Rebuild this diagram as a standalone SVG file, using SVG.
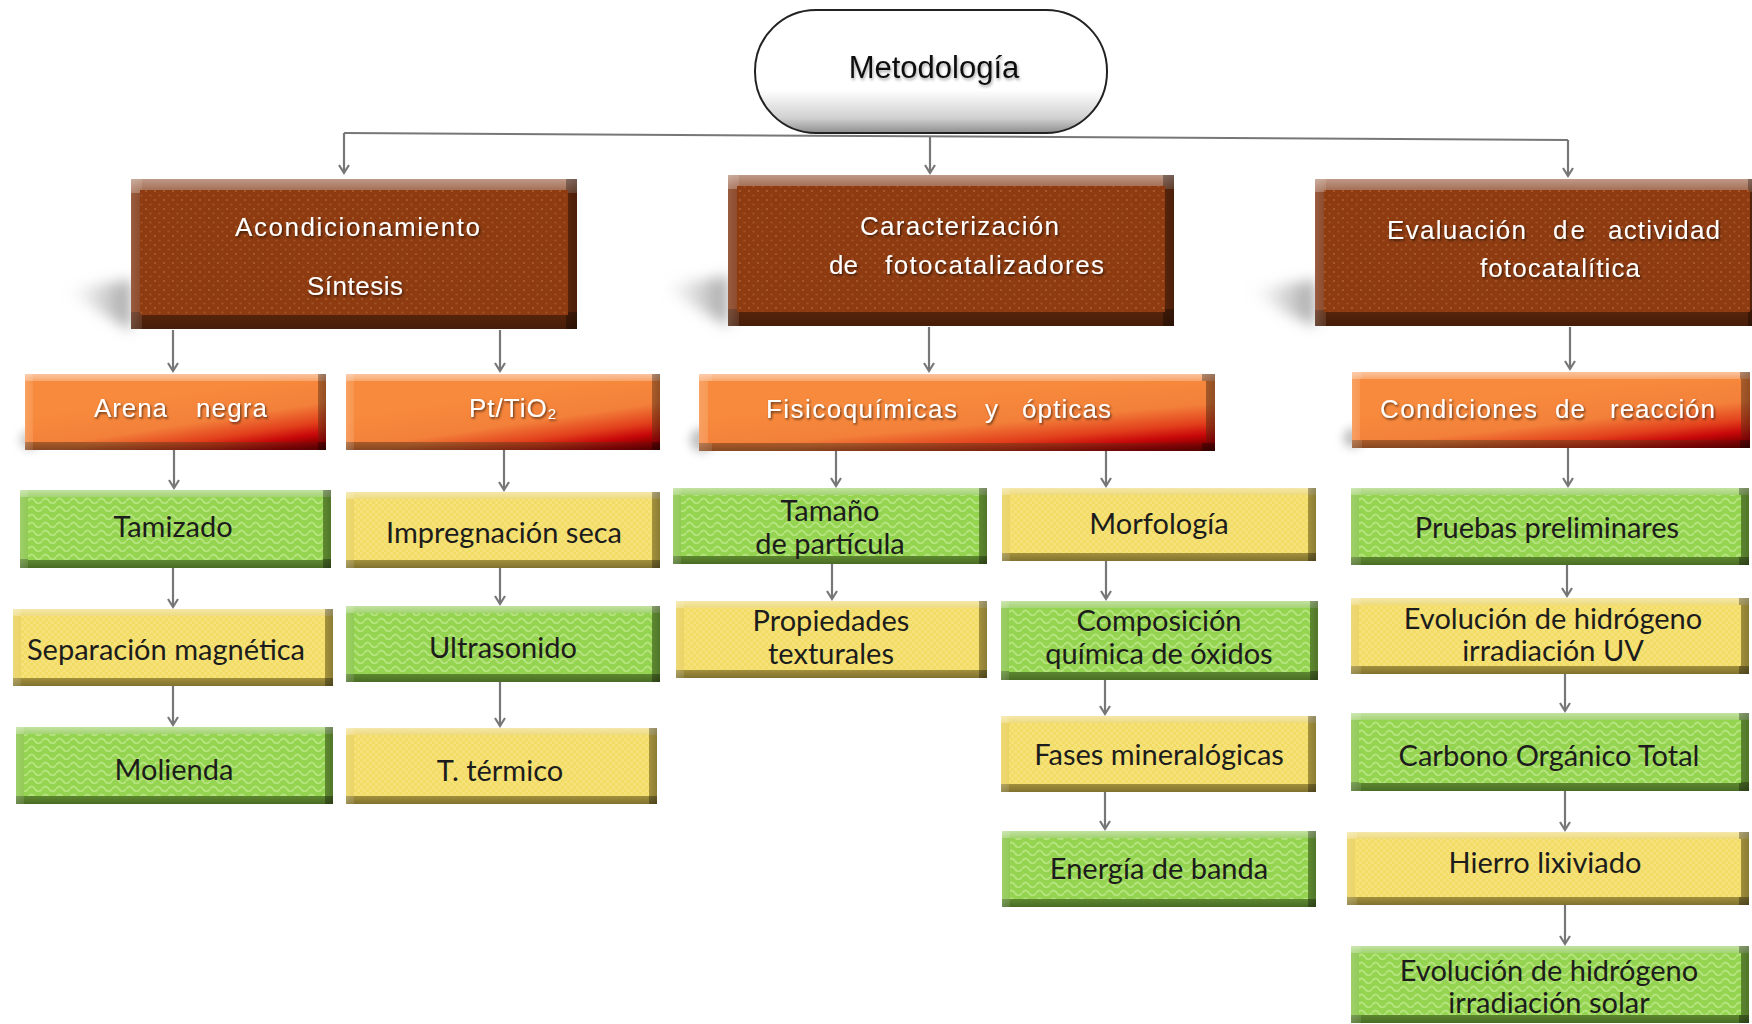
<svg xmlns="http://www.w3.org/2000/svg" width="1752" height="1024" viewBox="0 0 1752 1024">
<defs>
<style>
.conn{stroke:#777;stroke-width:2.2;fill:none;marker-end:url(#arr)}
.dk{font-family:Lato,"Open Sans",sans-serif;font-size:29px;fill:#1c1c1c;text-anchor:middle}
.wt{font-family:"Liberation Sans",Arial,sans-serif;font-size:26px;fill:#fff;filter:url(#tsh)}
.bv{fill:url(#bevV)}
.bh{fill:url(#bevH)}
.gB{fill:#7f3410}
.gO{fill:url(#gOr)}
.gG{fill:#86c444}
.gY{fill:#e9cf55}
.fB{fill:url(#pBrown)}
.fG{fill:url(#pGreen)}
.fY{fill:url(#pYellow)}
.shw{fill:url(#gSh);filter:url(#blur8)}
</style>
<marker id="arr" markerWidth="12" markerHeight="12" refX="9" refY="6" orient="auto" markerUnits="userSpaceOnUse">
<path d="M1,1 L9,6 L1,11" fill="none" stroke="#777" stroke-width="2.2"/>
</marker>
<filter id="tsh" x="-10%" y="-30%" width="120%" height="160%">
<feDropShadow dx="1.2" dy="1.6" stdDeviation="1" flood-color="#000" flood-opacity="0.6"/>
</filter>
<filter id="tsh2" x="-10%" y="-30%" width="120%" height="160%">
<feDropShadow dx="1" dy="2" stdDeviation="1.5" flood-color="#000" flood-opacity="0.35"/>
</filter>
<filter id="blur6" x="-50%" y="-50%" width="200%" height="200%"><feGaussianBlur stdDeviation="5"/></filter>
<filter id="blur8" x="-50%" y="-80%" width="200%" height="260%"><feGaussianBlur stdDeviation="7"/></filter>
<linearGradient id="bevV" x1="0" y1="0" x2="0" y2="1">
<stop offset="0" stop-color="#fff" stop-opacity="0.5"/>
<stop offset="0.09" stop-color="#fff" stop-opacity="0.25"/>
<stop offset="0.09" stop-color="#fff" stop-opacity="0"/>
<stop offset="0.89" stop-color="#000" stop-opacity="0"/>
<stop offset="0.89" stop-color="#000" stop-opacity="0.3"/>
<stop offset="1" stop-color="#000" stop-opacity="0.45"/>
</linearGradient>
<linearGradient id="bevH" x1="0" y1="0" x2="1" y2="0">
<stop offset="0" stop-color="#fff" stop-opacity="0.2"/>
<stop offset="0.025" stop-color="#fff" stop-opacity="0.1"/>
<stop offset="0.025" stop-color="#fff" stop-opacity="0"/>
<stop offset="0.975" stop-color="#000" stop-opacity="0"/>
<stop offset="0.975" stop-color="#000" stop-opacity="0.3"/>
<stop offset="1" stop-color="#000" stop-opacity="0.4"/>
</linearGradient>
<linearGradient id="gOr" x1="0.45" y1="0.25" x2="1" y2="1">
<stop offset="0" stop-color="#f78a3c"/>
<stop offset="0.45" stop-color="#f3803a"/>
<stop offset="0.72" stop-color="#e2401c"/>
<stop offset="0.88" stop-color="#c8080a"/>
<stop offset="1" stop-color="#900000"/>
</linearGradient>
<linearGradient id="gPill" x1="0" y1="0" x2="0" y2="1">
<stop offset="0" stop-color="#ffffff"/>
<stop offset="0.65" stop-color="#ffffff"/>
<stop offset="0.88" stop-color="#d0d0d0"/>
<stop offset="1" stop-color="#8e8e8e"/>
</linearGradient>
<linearGradient id="gSh" x1="1" y1="0" x2="0" y2="0">
<stop offset="0" stop-color="#8a8a8a" stop-opacity="0.8"/>
<stop offset="1" stop-color="#bbb" stop-opacity="0"/>
</linearGradient>
<pattern id="pBrown" width="9" height="9" patternUnits="userSpaceOnUse">
<rect width="9" height="9" fill="#8e3b11"/>
<circle cx="2" cy="2" r="1.1" fill="#ab5f2c"/>
<circle cx="6.5" cy="6.5" r="1.1" fill="#a1542a"/>
</pattern>
<pattern id="pGreen" width="14" height="8" patternUnits="userSpaceOnUse">
<rect width="14" height="8" fill="#94d450"/>
<path d="M0,5 Q3.5,0 7,5 T14,5" stroke="#b5e47e" stroke-width="2" fill="none"/>
</pattern>
<pattern id="pYellow" width="6" height="6" patternUnits="userSpaceOnUse">
<rect width="6" height="6" fill="#f3dc66"/>
<rect width="3" height="3" fill="#f5e27a"/>
<rect x="3" y="3" width="3" height="3" fill="#f5e27a"/>
</pattern>
</defs>
<rect width="1752" height="1024" fill="#fff"/>

<g id="shadows">
<polygon class="shw" points="131,280 66,290 100,312 131,330"/>
<polygon class="shw" points="728,276 663,286 697,308 728,326"/>
<polygon class="shw" points="1315,280 1250,290 1284,312 1315,326"/>
<ellipse cx="30" cy="440" rx="10" ry="10" fill="#999" opacity="0.5" filter="url(#blur6)"/>
<ellipse cx="702" cy="440" rx="12" ry="12" fill="#999" opacity="0.6" filter="url(#blur6)"/>
<ellipse cx="1353" cy="438" rx="10" ry="10" fill="#999" opacity="0.6" filter="url(#blur6)"/>
</g>

<g id="connectors">
<line x1="344" y1="133" x2="1568" y2="140" stroke="#777" stroke-width="2"/>
<line class="conn" x1="344" y1="133" x2="344" y2="173"/>
<line class="conn" x1="930" y1="136" x2="930" y2="173"/>
<line class="conn" x1="1568" y1="140" x2="1568" y2="176"/>
<line class="conn" x1="173" y1="330" x2="173" y2="371"/>
<line class="conn" x1="500" y1="330" x2="500" y2="371"/>
<line class="conn" x1="929" y1="327" x2="929" y2="371"/>
<line class="conn" x1="1570" y1="327" x2="1570" y2="369"/>
<line class="conn" x1="174" y1="450" x2="174" y2="488"/>
<line class="conn" x1="173" y1="568" x2="173" y2="607"/>
<line class="conn" x1="173" y1="686" x2="173" y2="725"/>
<line class="conn" x1="504" y1="450" x2="504" y2="490"/>
<line class="conn" x1="500" y1="568" x2="500" y2="604"/>
<line class="conn" x1="500" y1="682" x2="500" y2="726"/>
<line class="conn" x1="836" y1="451" x2="836" y2="486"/>
<line class="conn" x1="1106" y1="451" x2="1106" y2="486"/>
<line class="conn" x1="832" y1="564" x2="832" y2="599"/>
<line class="conn" x1="1106" y1="561" x2="1106" y2="599"/>
<line class="conn" x1="1105" y1="680" x2="1105" y2="714"/>
<line class="conn" x1="1105" y1="792" x2="1105" y2="829"/>
<line class="conn" x1="1568" y1="448" x2="1568" y2="486"/>
<line class="conn" x1="1567" y1="565" x2="1567" y2="596"/>
<line class="conn" x1="1565" y1="674" x2="1565" y2="711"/>
<line class="conn" x1="1565" y1="791" x2="1565" y2="830"/>
<line class="conn" x1="1565" y1="905" x2="1565" y2="944"/>
</g>

<g id="metodologia">
<rect x="755" y="10" width="352" height="123" rx="61" fill="url(#gPill)" stroke="#222" stroke-width="2"/>
<text x="934" y="78" font-family="Liberation Sans, Arial, sans-serif" font-size="31" fill="#111" text-anchor="middle" filter="url(#tsh2)">Metodología</text>
</g>

<g id="acondicionamiento">
<rect class="gB" x="131" y="179" width="446" height="150"/><rect class="bv" x="131" y="179" width="446" height="150"/><rect class="bh" x="131" y="179" width="446" height="150"/>
<rect class="fB" x="140" y="190" width="428" height="125"/>
<text class="wt" x="235" y="236" textLength="245" lengthAdjust="spacing">Acondicionamiento</text>
<text class="wt" x="307" y="295" textLength="96" lengthAdjust="spacing">Síntesis</text>
</g>
<g id="caracterizacion">
<rect class="gB" x="728" y="175" width="446" height="151"/><rect class="bv" x="728" y="175" width="446" height="151"/><rect class="bh" x="728" y="175" width="446" height="151"/>
<rect class="fB" x="737" y="186" width="428" height="126"/>
<text class="wt" x="860" y="235" textLength="199" lengthAdjust="spacing">Caracterización</text>
<text class="wt" x="829" y="274">de</text>
<text class="wt" x="885" y="274" textLength="219" lengthAdjust="spacing">fotocatalizadores</text>
</g>
<g id="evaluacion">
<rect class="gB" x="1315" y="179" width="444" height="147"/><rect class="bv" x="1315" y="179" width="444" height="147"/><rect class="bh" x="1315" y="179" width="444" height="147"/>
<rect class="fB" x="1324" y="190" width="426" height="122"/>
<text class="wt" x="1387" y="239" textLength="139" lengthAdjust="spacing">Evaluación</text>
<text class="wt" x="1553" y="239" textLength="32" lengthAdjust="spacing">de</text>
<text class="wt" x="1608" y="239" textLength="112" lengthAdjust="spacing">actividad</text>
<text class="wt" x="1480" y="277" textLength="160" lengthAdjust="spacing">fotocatalítica</text>
</g>

<g id="arena-negra">
<rect class="gO" x="25" y="374" width="301" height="76"/><rect class="bv" x="25" y="374" width="301" height="76"/><rect class="bh" x="25" y="374" width="301" height="76"/>
<rect class="gO" x="33" y="381" width="285" height="61"/>
<text class="wt" x="94" y="417" textLength="73" lengthAdjust="spacing">Arena</text>
<text class="wt" x="196" y="417" textLength="71" lengthAdjust="spacing">negra</text>
</g>
<g id="pt-tio2">
<rect class="gO" x="346" y="374" width="314" height="76"/><rect class="bv" x="346" y="374" width="314" height="76"/><rect class="bh" x="346" y="374" width="314" height="76"/>
<rect class="gO" x="354" y="381" width="298" height="61"/>
<text class="wt" x="469" y="417" letter-spacing="1">Pt/TiO<tspan font-size="15" dy="2">2</tspan></text>
</g>
<g id="fisicoquimicas">
<rect class="gO" x="699" y="374" width="516" height="77"/><rect class="bv" x="699" y="374" width="516" height="77"/><rect class="bh" x="699" y="374" width="516" height="77"/>
<rect class="gO" x="708" y="381" width="498" height="62"/>
<text class="wt" x="766" y="418" textLength="191" lengthAdjust="spacing">Fisicoquímicas</text>
<text class="wt" x="985" y="418">y</text>
<text class="wt" x="1022" y="418" textLength="89" lengthAdjust="spacing">ópticas</text>
</g>
<g id="condiciones">
<rect class="gO" x="1352" y="372" width="398" height="76"/><rect class="bv" x="1352" y="372" width="398" height="76"/><rect class="bh" x="1352" y="372" width="398" height="76"/>
<rect class="gO" x="1360" y="379" width="381" height="61"/>
<text class="wt" x="1380" y="418" textLength="157" lengthAdjust="spacing">Condiciones</text>
<text class="wt" x="1555" y="418" textLength="30" lengthAdjust="spacing">de</text>
<text class="wt" x="1610" y="418" textLength="105" lengthAdjust="spacing">reacción</text>
</g>

<g id="tamizado">
<rect class="gG" x="20" y="490" width="311" height="78"/><rect class="bv" x="20" y="490" width="311" height="78"/><rect class="bh" x="20" y="490" width="311" height="78"/>
<rect class="fG" x="28" y="497" width="295" height="63"/>
<text class="dk" x="173" y="537">Tamizado</text>
</g>
<g id="separacion">
<rect class="gY" x="13" y="609" width="320" height="77"/><rect class="bv" x="13" y="609" width="320" height="77"/><rect class="bh" x="13" y="609" width="320" height="77"/>
<rect class="fY" x="21" y="616" width="304" height="62"/>
<text class="dk" x="166" y="660">Separación magnética</text>
</g>
<g id="molienda">
<rect class="gG" x="16" y="727" width="317" height="77"/><rect class="bv" x="16" y="727" width="317" height="77"/><rect class="bh" x="16" y="727" width="317" height="77"/>
<rect class="fG" x="24" y="734" width="301" height="62"/>
<text class="dk" x="174" y="780">Molienda</text>
</g>
<g id="impregnacion">
<rect class="gY" x="346" y="492" width="314" height="76"/><rect class="bv" x="346" y="492" width="314" height="76"/><rect class="bh" x="346" y="492" width="314" height="76"/>
<rect class="fY" x="354" y="499" width="298" height="61"/>
<text class="dk" x="504" y="543">Impregnación seca</text>
</g>
<g id="ultrasonido">
<rect class="gG" x="346" y="606" width="314" height="76"/><rect class="bv" x="346" y="606" width="314" height="76"/><rect class="bh" x="346" y="606" width="314" height="76"/>
<rect class="fG" x="354" y="613" width="298" height="61"/>
<text class="dk" x="503" y="658">Ultrasonido</text>
</g>
<g id="t-termico">
<rect class="gY" x="346" y="728" width="311" height="76"/><rect class="bv" x="346" y="728" width="311" height="76"/><rect class="bh" x="346" y="728" width="311" height="76"/>
<rect class="fY" x="354" y="735" width="295" height="61"/>
<text class="dk" x="500" y="781">T. térmico</text>
</g>
<g id="tamano">
<rect class="gG" x="673" y="488" width="314" height="76"/><rect class="bv" x="673" y="488" width="314" height="76"/><rect class="bh" x="673" y="488" width="314" height="76"/>
<rect class="fG" x="681" y="495" width="298" height="61"/>
<text class="dk" x="830" y="521">Tamaño</text>
<text class="dk" x="830" y="554">de partícula</text>
</g>
<g id="propiedades">
<rect class="gY" x="676" y="601" width="311" height="77"/><rect class="bv" x="676" y="601" width="311" height="77"/><rect class="bh" x="676" y="601" width="311" height="77"/>
<rect class="fY" x="684" y="608" width="295" height="62"/>
<text class="dk" x="831" y="631">Propiedades</text>
<text class="dk" x="831" y="664">texturales</text>
</g>
<g id="morfologia">
<rect class="gY" x="1002" y="488" width="314" height="73"/><rect class="bv" x="1002" y="488" width="314" height="73"/><rect class="bh" x="1002" y="488" width="314" height="73"/>
<rect class="fY" x="1010" y="495" width="298" height="58"/>
<text class="dk" x="1159" y="534">Morfología</text>
</g>
<g id="composicion">
<rect class="gG" x="1001" y="601" width="317" height="79"/><rect class="bv" x="1001" y="601" width="317" height="79"/><rect class="bh" x="1001" y="601" width="317" height="79"/>
<rect class="fG" x="1009" y="608" width="301" height="64"/>
<text class="dk" x="1159" y="631">Composición</text>
<text class="dk" x="1159" y="664">química de óxidos</text>
</g>
<g id="fases">
<rect class="gY" x="1001" y="716" width="315" height="76"/><rect class="bv" x="1001" y="716" width="315" height="76"/><rect class="bh" x="1001" y="716" width="315" height="76"/>
<rect class="fY" x="1009" y="723" width="299" height="61"/>
<text class="dk" x="1159" y="765">Fases mineralógicas</text>
</g>
<g id="energia">
<rect class="gG" x="1002" y="831" width="314" height="76"/><rect class="bv" x="1002" y="831" width="314" height="76"/><rect class="bh" x="1002" y="831" width="314" height="76"/>
<rect class="fG" x="1010" y="838" width="298" height="61"/>
<text class="dk" x="1159" y="879">Energía de banda</text>
</g>
<g id="pruebas">
<rect class="gG" x="1351" y="488" width="398" height="77"/><rect class="bv" x="1351" y="488" width="398" height="77"/><rect class="bh" x="1351" y="488" width="398" height="77"/>
<rect class="fG" x="1359" y="495" width="382" height="62"/>
<text class="dk" x="1547" y="538">Pruebas preliminares</text>
</g>
<g id="evolucion-uv">
<rect class="gY" x="1351" y="598" width="398" height="76"/><rect class="bv" x="1351" y="598" width="398" height="76"/><rect class="bh" x="1351" y="598" width="398" height="76"/>
<rect class="fY" x="1359" y="605" width="382" height="61"/>
<text class="dk" x="1553" y="629">Evolución de hidrógeno</text>
<text class="dk" x="1553" y="661">irradiación UV</text>
</g>
<g id="carbono">
<rect class="gG" x="1351" y="713" width="398" height="78"/><rect class="bv" x="1351" y="713" width="398" height="78"/><rect class="bh" x="1351" y="713" width="398" height="78"/>
<rect class="fG" x="1359" y="720" width="382" height="63"/>
<text class="dk" x="1549" y="766">Carbono Orgánico Total</text>
</g>
<g id="hierro">
<rect class="gY" x="1347" y="832" width="402" height="73"/><rect class="bv" x="1347" y="832" width="402" height="73"/><rect class="bh" x="1347" y="832" width="402" height="73"/>
<rect class="fY" x="1355" y="839" width="386" height="58"/>
<text class="dk" x="1545" y="873">Hierro lixiviado</text>
</g>
<g id="evolucion-solar">
<rect class="gG" x="1351" y="946" width="398" height="77"/><rect class="bv" x="1351" y="946" width="398" height="77"/><rect class="bh" x="1351" y="946" width="398" height="77"/>
<rect class="fG" x="1359" y="953" width="382" height="62"/>
<text class="dk" x="1549" y="981">Evolución de hidrógeno</text>
<text class="dk" x="1549" y="1013">irradiación solar</text>
</g>
</svg>
